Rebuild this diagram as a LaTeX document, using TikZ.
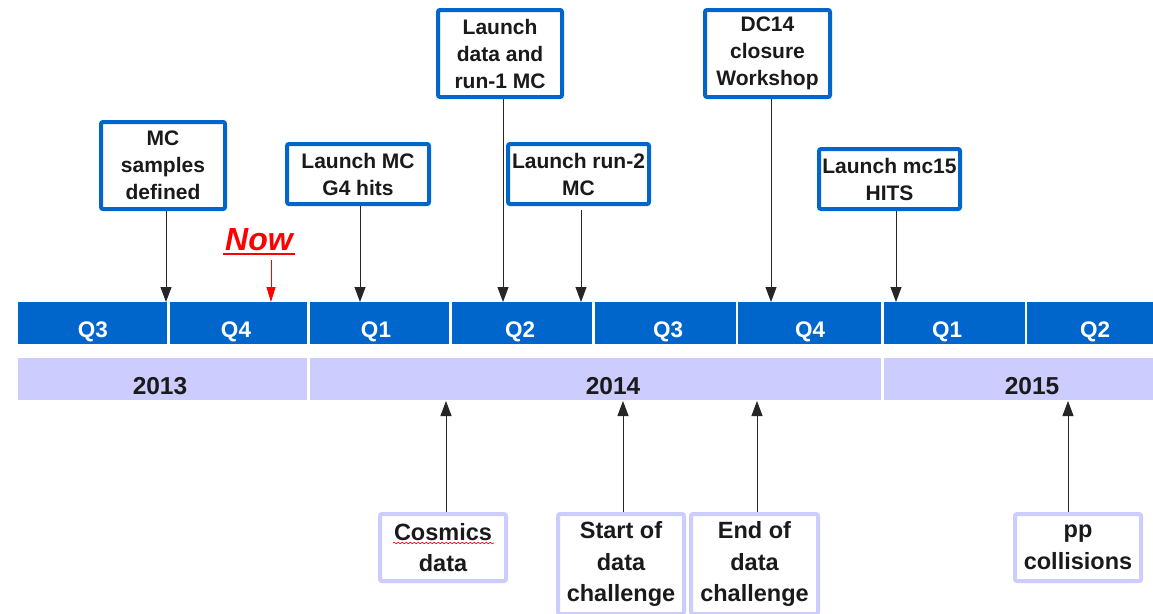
\documentclass[tikz,border=0pt]{standalone}
\usepackage{fontspec}
\setmainfont{Liberation Sans}
\usetikzlibrary{arrows.meta,decorations.pathmorphing}
\definecolor{qblue}{HTML}{0066CC}
\definecolor{ylav}{HTML}{CCCCFF}
\definecolor{txt}{HTML}{1A1A1A}
\begin{document}
\begin{tikzpicture}[x=1pt,y=-1pt,
  topbox/.style={draw=qblue, line width=4pt, rounded corners=2pt, fill=white, align=center, text=txt, font=\fontsize{21}{27}\selectfont\bfseries, inner sep=0pt},
  botbox/.style={topbox, draw=ylav, font=\fontsize{23.5}{31.5}\selectfont\bfseries},
  qbar/.style={fill=qblue, draw=none, inner sep=0pt, minimum height=42pt},
  ybar/.style={fill=ylav, draw=none, inner sep=0pt, minimum height=42pt},
  qlab/.style={text=white, font=\fontsize{22.5}{22.5}\selectfont\bfseries, inner sep=0pt},
  ylab/.style={text=txt, font=\fontsize{24.5}{24.5}\selectfont\bfseries, inner sep=0pt},
  arr/.style={draw=black!85, line width=0.9pt, -{Triangle[length=15pt,width=11pt]}},
  redarr/.style={draw=red, line width=0.9pt, -{Triangle[length=15pt,width=9pt]}},
]
\useasboundingbox (0,0) rectangle (1153,613);
\fill[white] (0,0) rectangle (1153,613);

% quarter bar
\node[qbar, minimum width=149pt] (q13a) at (92.5,323) {};
\node[qbar, minimum width=137pt] (q13b) at (238.5,323) {};
\node[qbar, minimum width=139pt] (q14a) at (379.5,323) {};
\node[qbar, minimum width=140pt] (q14b) at (522,323) {};
\node[qbar, minimum width=141pt] (q14c) at (665.5,323) {};
\node[qbar, minimum width=143pt] (q14d) at (809.5,323) {};
\node[qbar, minimum width=141pt] (q15a) at (954.5,323) {};
\node[qbar, minimum width=130pt] (q15b) at (1092,323) {};
\node[qlab] (lq13a) at (93,332) {Q3};
\node[qlab] (lq13b) at (236,332) {Q4};
\node[qlab] (lq14a) at (376,332) {Q1};
\node[qlab] (lq14b) at (520,332) {Q2};
\node[qlab] (lq14c) at (668,332) {Q3};
\node[qlab] (lq14d) at (810,332) {Q4};
\node[qlab] (lq15a) at (947,332) {Q1};
\node[qlab] (lq15b) at (1095,332) {Q2};

% year bar
\node[ybar, minimum width=289pt] (y13) at (162.5,379) {};
\node[ybar, minimum width=571pt] (y14) at (595.5,379) {};
\node[ybar, minimum width=273pt] (y15) at (1020.5,379) {};
\node[ylab] (ly13) at (160,386) {2013};
\node[ylab] (ly14) at (613,386) {2014};
\node[ylab] (ly15) at (1032,386) {2015};

% top boxes
\node[topbox, minimum width=124pt, minimum height=87pt] (mcs) at (163,165.5) {MC\\samples\\defined};
\node[topbox, minimum width=142pt, minimum height=60pt] (g4) at (358,174) {Launch MC\\G4 hits};
\node[topbox, minimum width=124pt, minimum height=87pt] (run1) at (500,53.5) {Launch\\data and\\run-1 MC};
\node[topbox, minimum width=141pt, minimum height=60pt] (run2) at (578.5,174) {Launch run-2\\MC};
\node[topbox, minimum width=125pt, minimum height=87pt] (dc14) at (767.5,53.5) {DC14\\closure\\Workshop};
\node[topbox, minimum width=141pt, minimum height=60pt] (mc15) at (889.5,179) {Launch mc15\\HITS};

% Now
\node[text=red, font=\fontsize{32}{32}\selectfont\bfseries\itshape, inner sep=0pt, anchor=base] (now) at (259,250) {Now};
\draw[red, line width=2pt] (223,254) -- (295,254);
\coordinate (nowtail) at (271,260);
\coordinate (anow) at (271,302);
\draw[redarr] (nowtail) -- (anow);

% top arrow targets
\coordinate (a1) at (166,302);
\coordinate (a2) at (360,302);
\coordinate (a3) at (503,302);
\coordinate (a4) at (581,302);
\coordinate (a5) at (771,302);
\coordinate (a6) at (896,302);
\draw[arr] (mcs.south -| a1) -- (a1);
\draw[arr] (g4.south -| a2) -- (a2);
\draw[arr] (run1.south -| a3) -- (a3);
\draw[arr] ([yshift=-4pt]run2.south -| a4) -- (a4);
\draw[arr] (dc14.south -| a5) -- (a5);
\draw[arr] (mc15.south -| a6) -- (a6);

% bottom boxes
\node[botbox, minimum width=126pt, minimum height=67pt] (cosm) at (443,547.5) {Cosmics\\data};
\node[botbox, minimum width=126pt, minimum height=100pt] (start) at (621,564) {Start of\\data\\challenge};
\node[botbox, minimum width=127pt, minimum height=100pt] (end) at (754.5,564) {End of\\data\\challenge};
\node[botbox, minimum width=126pt, minimum height=67pt] (pp) at (1078,547.5) {pp\\collisions};
\draw[red, line width=0.6pt, decorate, decoration={snake, amplitude=0.8pt, segment length=4pt}] (393,543) -- (494,543);

\coordinate (b1) at (446,401);
\coordinate (b2) at (623,401);
\coordinate (b3) at (757,401);
\coordinate (b4) at (1068,401);
\draw[arr] (cosm.north -| b1) -- (b1);
\draw[arr] (start.north -| b2) -- (b2);
\draw[arr] (end.north -| b3) -- (b3);
\draw[arr] (pp.north -| b4) -- (b4);
\end{tikzpicture}
\end{document}
